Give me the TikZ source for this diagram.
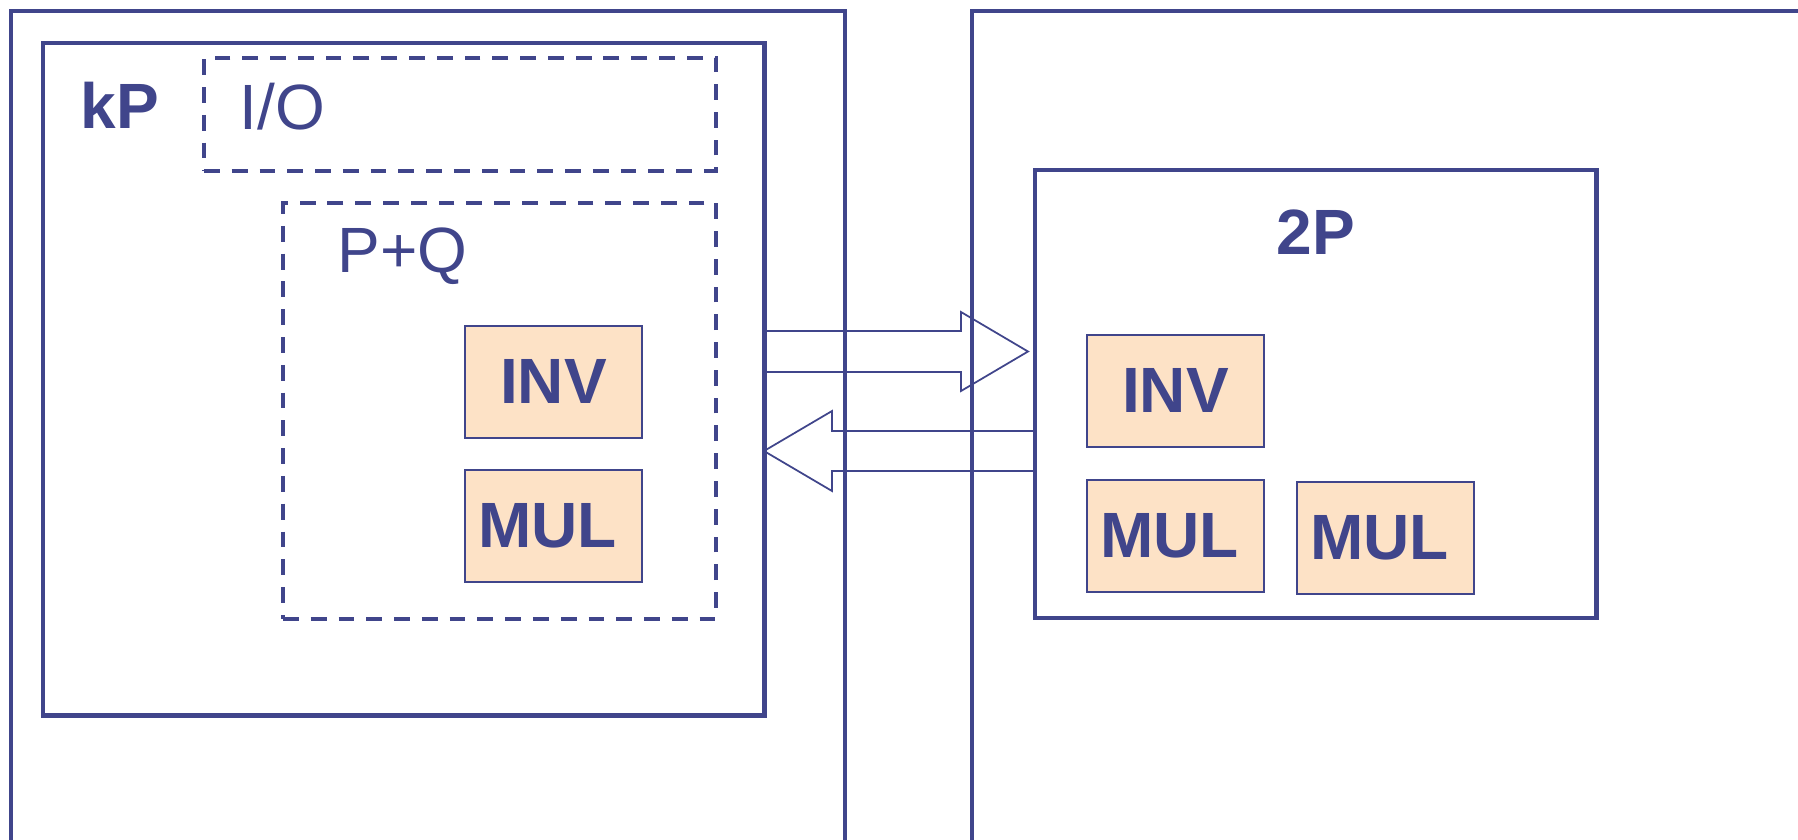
\documentclass[tikz,border=0pt]{standalone}
\usepackage{fontspec}
\setmainfont{Liberation Sans}
\usetikzlibrary{calc}
\definecolor{boxblue}{RGB}{64, 69, 139}
\definecolor{unitfill}{RGB}{253, 226, 198}
\newcommand{\lblsize}{\fontsize{18.2}{20}\selectfont}

\begin{document}
\begin{tikzpicture}[x=0.01cm, y=-0.01cm,
  panel/.style={draw=boxblue, line width=1.2pt, rectangle, inner sep=0pt, anchor=north west},
  dashbox/.style={panel, line width=1.1pt, dash pattern=on 4.5pt off 3.4pt},
  unit/.style={draw=boxblue, line width=0.5pt, fill=unitfill, rectangle, inner sep=0pt, anchor=north west,
    minimum width=1.77cm, minimum height=1.12cm, font=\lblsize\bfseries, text=boxblue},
  lbl/.style={font=\lblsize, text=boxblue, inner sep=0pt},
  lblbold/.style={lbl, font=\lblsize\bfseries},
  blockarrow/.style={draw=boxblue, line width=0.5pt, line join=miter}]
  \useasboundingbox (0,0) rectangle (1798,839);
  \clip (0,0) rectangle (1798,839);
  
  \node[panel, minimum width=8.33cm, minimum height=9cm] (left) at (9,9) {};
  \node[panel, minimum width=9cm, minimum height=9cm] (right) at (970,9) {};
  
  \node[panel, minimum width=7.21cm, minimum height=6.72cm] (kp) at (41,41) {};
  \node[dashbox, minimum width=5.12cm, minimum height=1.13cm] (io) at (202,56) {};
  \node[dashbox, minimum width=4.33cm, minimum height=4.16cm] (pq) at (281,201) {};
  \node[unit] (invA) at (464,325) {INV};
  \node[unit] (mulA) at (464,469) {MUL\kern0.12cm};
  
  \node[panel, minimum width=5.61cm, minimum height=4.48cm] (tp) at (1033,168) {};
  \node[unit] (invB) at (1086,334) {INV};
  \node[unit] (mulB) at (1086,479) {MUL\kern0.12cm};
  \node[unit] (mulC) at (1296,481) {MUL\kern0.12cm};
  
  \node[lblbold, anchor=base west] (kpname) at (80,128) {kP};
  \node[lbl, anchor=base west] (ioname) at (239,129) {I/O};
  \node[lbl, anchor=base west] (pqname) at (337,272) {P+Q};
  \node[lblbold, anchor=base] (tpname) at (1316,254) {2P};
  
  \draw[blockarrow] (kp.east |- 0,331) -- (961,331) -- (961,312) -- (1028,351.5) -- (961,391) -- (961,372) -- (kp.east |- 0,372);
  \draw[blockarrow] (tp.west |- 0,431) -- (832,431) -- (832,411) -- (764,451) -- (832,491) -- (832,471) -- (tp.west |- 0,471);
\end{tikzpicture}
\end{document}
